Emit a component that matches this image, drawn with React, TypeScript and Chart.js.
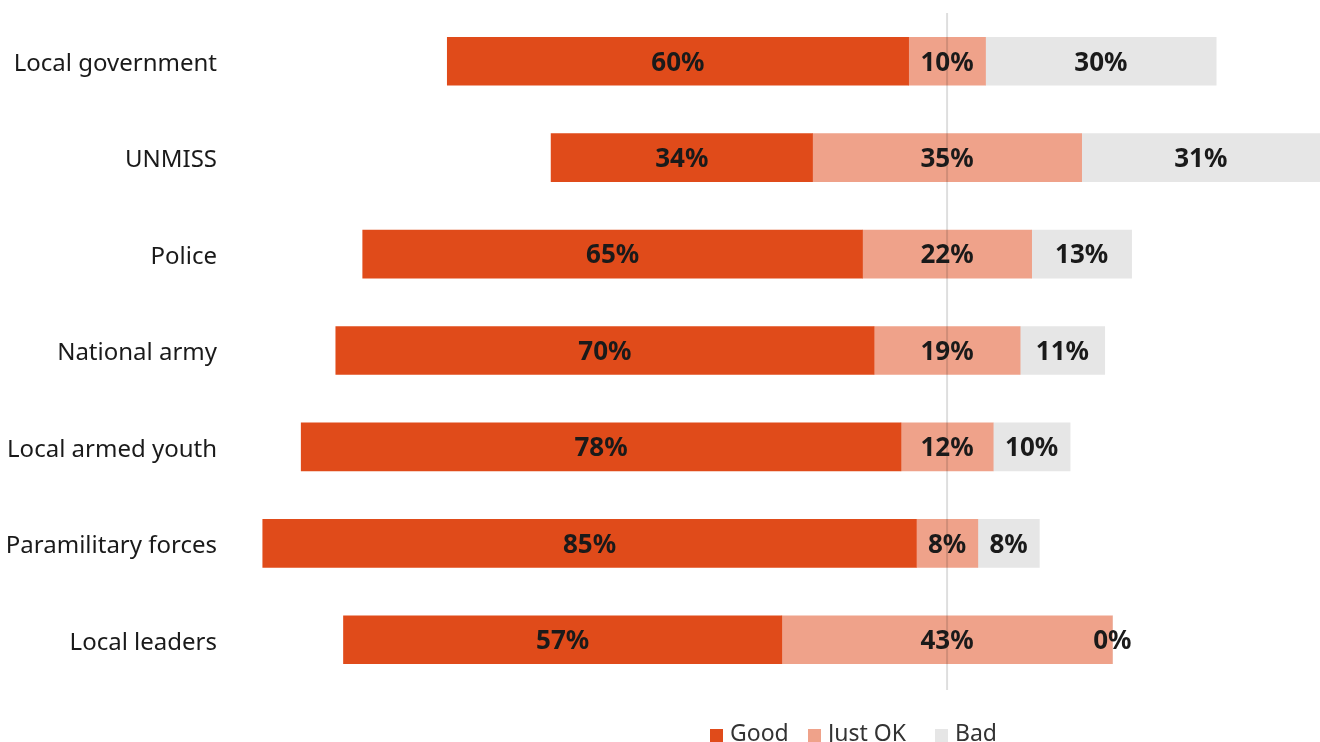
import React, { useEffect, useRef } from "react";
import { Chart, registerables } from "chart.js";

Chart.register(...registerables);

const categories = [
  "Local government",
  "UNMISS",
  "Police",
  "National army",
  "Local armed youth",
  "Paramilitary forces",
  "Local leaders",
];
const seriesNames = ["Good", "Just OK", "Bad"];
const good = [60, 34, 65, 70, 78, 85, 57];
const justOk = [10, 35, 22, 19, 12, 8, 43];
const bad = [30, 31, 13, 11, 10, 8, 0];
const colors = ["#E04B1A", "#EFA28A", "#E6E6E6"];

const FONT = "'Noto Sans', 'Open Sans', sans-serif";
const legendLefts = [710, 808, 935];

export default function App() {
  const ref = useRef<HTMLCanvasElement | null>(null);

  useEffect(() => {
    if (!ref.current) return;
    const goodR = categories.map((_, i) => [-(good[i] + justOk[i] / 2), -justOk[i] / 2]);
    const okR = categories.map((_, i) => [-justOk[i] / 2, justOk[i] / 2]);
    const badR = categories.map((_, i) => [justOk[i] / 2, justOk[i] / 2 + bad[i]]);
    const raw = [good, justOk, bad];

    const centerLine = {
      id: "centerLine",
      afterDatasetsDraw(chart: any) {
        const { ctx, chartArea, scales } = chart;
        const x = scales.x.getPixelForValue(0);
        ctx.save();
        ctx.strokeStyle = "rgba(0,0,0,0.13)";
        ctx.lineWidth = 2;
        ctx.beginPath();
        ctx.moveTo(x, chartArea.top);
        ctx.lineTo(x, chartArea.bottom + 2);
        ctx.stroke();
        ctx.restore();
      },
    };

    const valueLabels = {
      id: "valueLabels",
      afterDraw(chart: any) {
        const { ctx } = chart;
        ctx.save();
        ctx.font = `bold 26px ${FONT}`;
        ctx.fillStyle = "#1a1a1a";
        ctx.textAlign = "center";
        ctx.textBaseline = "middle";
        chart.data.datasets.forEach((ds: any, di: number) => {
          const meta = chart.getDatasetMeta(di);
          meta.data.forEach((el: any, i: number) => {
            const cx = (el.x + el.base) / 2;
            ctx.fillText(raw[di][i] + "%", cx, el.y + 2);
          });
        });
        ctx.restore();
      },
    };

    const chart = new Chart(ref.current, {
      type: "bar",
      data: {
        labels: categories,
        datasets: [
          { label: seriesNames[0], data: goodR as any, backgroundColor: colors[0] },
          { label: seriesNames[1], data: okR as any, backgroundColor: colors[1] },
          { label: seriesNames[2], data: badR as any, backgroundColor: colors[2] },
        ],
      },
      options: {
        indexAxis: "y",
        animation: false,
        responsive: true,
        maintainAspectRatio: false,
        layout: { padding: { top: 13, bottom: 54, left: 0, right: 0 } },
        datasets: { bar: { barThickness: 48 } } as any,
        scales: {
          x: { display: false, min: -93, max: 48.5, stacked: false },
          y: {
            stacked: true,
            grid: { display: false },
            border: { display: false },
            ticks: {
              color: "#1a1a1a",
              font: { family: FONT, size: 24 },
              padding: 7,
              labelOffset: 3,
            },
            afterFit(scale: any) {
              scale.width = 232;
              scale.paddingTop = 0;
              scale.paddingBottom = 0;
            },
          },
        },
        plugins: {
          legend: { display: false },
          tooltip: { enabled: false },
        },
      },
      plugins: [centerLine, valueLabels],
    });
    return () => chart.destroy();
  }, []);

  return (
    <div style={{ position: "fixed", left: 0, top: 0, width: 1320, height: 742, background: "#fff" }}>
      <canvas ref={ref} />
      {seriesNames.map((n, i) => (
        <div
          key={n}
          style={{
            position: "absolute",
            left: legendLefts[i],
            top: 716,
            display: "flex",
            alignItems: "center",
            fontFamily: FONT,
            fontSize: 23,
            color: "#333",
            whiteSpace: "nowrap",
          }}
        >
          <span
            style={{
              display: "inline-block",
              width: 13,
              height: 13,
              background: colors[i],
              marginRight: 7,
              marginTop: 6,
            }}
          />
          <span>{n}</span>
        </div>
      ))}
    </div>
  );
}
